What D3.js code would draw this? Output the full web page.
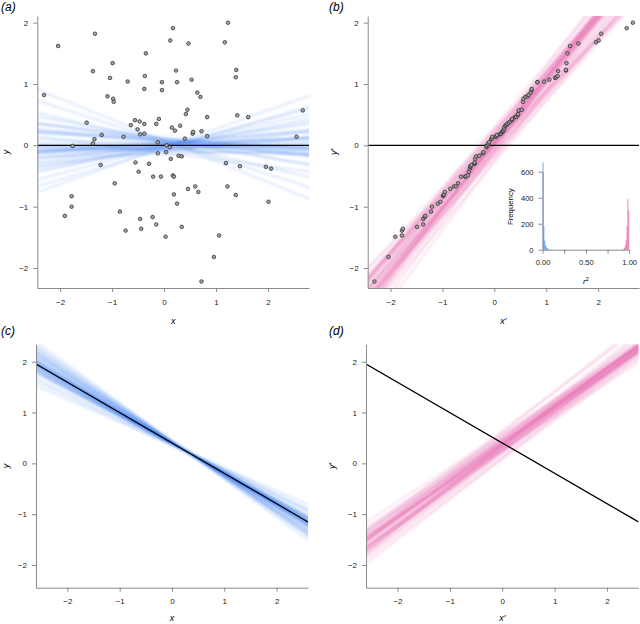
<!DOCTYPE html>
<html>
<head>
<meta charset="utf-8">
<script src="https://cdn.jsdelivr.net/npm/d3@7"></script>
<style>
  body { margin: 0; background: #fff; }
  svg { display: block; font-family: "Liberation Sans", Arial, sans-serif; }
</style>
</head>
<body>
<svg id="chart" width="640" height="624"></svg>
<script>
// ---- observed points (panel a); panel b uses the same values, each sorted ----
const ptX = [-2.31,-2.04,-1.33,-1.37,-0.99,-1.04,-1.09,-0.98,-0.97,-0.70,-0.35,-0.37,-0.38,-0.04,-0.04,0.12,0.17,0.23,0.25,0.47,
  0.53,0.64,0.70,0.45,0.42,0.83,1.17,1.23,1.39,1.38,1.41,1.62,2.67,2.55,-1.49,-1.34,-1.37,-1.20,-1.76,-0.78,
  -0.64,-0.56,-0.47,-0.51,-0.46,-0.38,-0.38,-0.15,-0.10,-0.12,0.05,0.11,0.15,0.21,0.31,0.40,0.55,0.56,0.72,0.83,
  -0.12,0.04,0.13,0.28,0.34,-1.22,-0.55,-0.29,-0.49,-0.21,-0.06,0.17,0.19,-0.95,0.46,0.60,0.66,0.19,0.25,1.19,
  1.46,1.96,2.06,1.22,1.38,2.01,-1.78,-1.78,-1.91,-0.85,-0.46,-0.22,-0.15,-0.74,-0.44,0.34,0.03,1.06,0.96,0.72];
const ptY = [0.82,1.62,1.82,1.21,1.34,1.10,0.80,0.76,0.71,1.04,1.50,1.13,0.92,1.03,0.90,1.71,1.91,1.22,1.03,1.66,
  1.07,0.86,0.79,0.58,0.51,0.46,1.68,2.00,1.23,1.11,0.49,0.46,0.57,0.14,0.37,0.10,0.03,0.17,-0.01,0.14,
  0.33,0.41,0.39,0.26,0.18,0.19,0.35,0.35,0.43,0.05,0.00,-0.03,0.29,0.24,0.32,0.11,0.19,0.22,0.23,0.15,
  -0.13,-0.11,-0.22,-0.17,-0.18,-0.32,-0.28,-0.30,-0.43,-0.51,-0.51,-0.49,-0.51,-0.62,-0.71,-0.67,-0.76,-0.80,-0.95,-0.29,
  -0.34,-0.35,-0.38,-0.67,-0.81,-0.92,-0.83,-1.00,-1.15,-1.08,-1.20,-1.17,-1.29,-1.39,-1.36,-1.33,-1.49,-1.47,-1.82,-2.22];

// ---- resampled fit lines (intercept, slope) per panel ----
const aInt = [-0.03,0.06,0.01,-0.09,0.04,0.10,-0.05,0.00,0.08,-0.02,-0.12,0.03,0.05,-0.07,0.02,0.07,-0.01,0.11,-0.04,0.00,
  0.13,-0.06,0.04,-0.10,0.02,-0.08,0.06,0.01,-0.03,0.09,-0.14,0.05,-0.02,0.03,-0.05,0.08,0.00,-0.06,0.10,-0.01];
const aSlope = [0.03,-0.08,0.12,-0.02,0.06,-0.15,0.01,0.09,-0.05,0.22,-0.11,0.02,0.07,-0.03,0.04,-0.27,0.14,-0.06,-0.01,0.18,
  -0.09,0.03,-0.20,0.08,-0.01,0.11,-0.13,0.04,0.30,-0.05,0.02,-0.07,0.16,-0.03,0.06,-0.34,0.00,0.25,-0.10,0.05];
const bInt = [0.02,0.14,-0.05,0.20,0.06,-0.10,0.11,0.03,-0.17,0.08,0.26,-0.02,0.04,-0.12,0.16,0.00,-0.07,0.22,0.09,-0.24,
  0.05,0.12,0.01,-0.14,0.18,0.03,-0.04,0.30,-0.09,0.07,0.10,-0.20,0.04,0.24,-0.01,0.06,-0.28,0.17,-0.11,0.03];
const bSlope = [1.01,0.95,1.06,0.99,1.03,0.92,1.00,1.08,0.97,1.12,0.94,1.02,1.05,0.98,0.96,0.86,1.09,0.97,1.01,1.14,
  0.93,1.00,0.89,1.04,0.99,1.07,0.95,1.02,1.16,0.96,1.00,0.93,1.10,0.98,1.03,0.84,1.01,1.11,0.94,1.02];
const cInt = [0.41,0.37,0.43,0.40,0.40,0.40,0.39,0.43,0.40,0.44,0.38,0.38,0.42,0.39,0.43,0.36,0.42,0.39,0.41,0.43,
  0.38,0.40,0.37,0.41,0.41,0.42,0.39,0.41,0.44,0.40,0.39,0.39,0.42,0.40,0.40,0.36,0.40,0.44,0.38,0.41];
const cSlope = [-0.60,-0.56,-0.65,-0.59,-0.62,-0.52,-0.61,-0.67,-0.58,-0.72,-0.55,-0.60,-0.64,-0.57,-0.63,-0.48,-0.69,-0.58,-0.61,-0.70,
  -0.54,-0.60,-0.50,-0.66,-0.59,-0.68,-0.56,-0.62,-0.75,-0.57,-0.60,-0.55,-0.67,-0.59,-0.63,-0.45,-0.61,-0.71,-0.56,-0.62];
const dInt = [0.38,0.24,0.49,0.33,0.42,0.20,0.36,0.47,0.29,0.58,0.25,0.39,0.45,0.31,0.40,0.10,0.52,0.28,0.35,0.55,
  0.22,0.37,0.14,0.44,0.34,0.50,0.27,0.41,0.64,0.30,0.36,0.23,0.48,0.32,0.43,0.08,0.37,0.60,0.26,0.39];
const dSlope = [0.73,0.76,0.71,0.75,0.74,0.78,0.72,0.70,0.75,0.67,0.77,0.74,0.72,0.79,0.73,0.80,0.69,0.74,0.76,0.71,
  0.73,0.82,0.75,0.72,0.78,0.74,0.66,0.73,0.77,0.75,0.70,0.74,0.79,0.72,0.68,0.76,0.73,0.81,0.74,0.71];

// black reference fits: [intercept, slope]
const fitAB = [0, 0];
const fitCD = [0.40, -0.597];

// ---- inset histogram of r^2 ----
const histBinWidth = 0.01;
const blueBinStart = [0.00,0.01,0.02,0.03,0.04,0.05,0.06,0.07,0.08,0.09];
const blueCounts = [672,178,70,36,18,10,7,5,3,1];
const pinkBinStart = [0.92,0.93,0.94,0.95,0.96,0.97,0.98,0.99];
const pinkCounts = [2,6,14,35,75,180,388,300];

const axisTicks = [-2, -1, 0, 1, 2];
const histYTicks = [0, 200, 400, 600];
const histXTicks = [0, 0.25, 0.5, 0.75, 1];
const histXLabels = [0, 0.5, 1];

const BLUE = '#3a7cf0';
const PINK = '#e2529f';

const svg = d3.select('#chart');
const fmt = d3.format('d');

// soft blur so the few resampled lines read as a dense fan
svg.append('defs').append('filter').attr('id', 'soft')
  .attr('x', '-5%').attr('y', '-5%').attr('width', '110%').attr('height', '110%')
  .append('feGaussianBlur').attr('stdDeviation', 0.9);

function drawPanel(p) {
  const g = svg.append('g');
  const x = d3.scaleLinear().domain(p.xDomain).range(p.xRange);
  const y = d3.scaleLinear().domain(p.yDomain).range(p.yRange);

  const clipId = 'clip-' + p.key;
  g.append('clipPath').attr('id', clipId)
    .append('rect')
    .attr('x', p.xRange[0]).attr('y', p.yRange[1])
    .attr('width', p.xRange[1] - p.xRange[0]).attr('height', p.yRange[0] - p.yRange[1]);

  const plot = g.append('g').attr('clip-path', `url(#${clipId})`);
  const [x0, x1] = p.xDomain;
  const line = d3.line().x(d => x(d[0])).y(d => y(d[1]));

  // fan of resampled lines
  plot.append('g')
    .attr('filter', 'url(#soft)')
    .selectAll('path')
    .data(d3.range(p.ints.length))
    .join('path')
    .attr('d', i => line([[x0 - 0.3, p.ints[i] + p.slopes[i] * (x0 - 0.3)], [x1 + 0.3, p.ints[i] + p.slopes[i] * (x1 + 0.3)]]))
    .attr('fill', 'none')
    .attr('stroke', p.color)
    .attr('stroke-width', 1.6)
    .attr('stroke-opacity', 0.2);

  // black fit line
  plot.append('path')
    .attr('d', line([[x0, p.fit[0] + p.fit[1] * x0], [x1, p.fit[0] + p.fit[1] * x1]]))
    .attr('fill', 'none')
    .attr('stroke', '#000')
    .attr('stroke-width', 1.3);

  if (p.px) {
    plot.append('g')
      .selectAll('circle')
      .data(d3.range(p.px.length))
      .join('circle')
      .attr('cx', i => x(p.px[i]))
      .attr('cy', i => y(p.py[i]))
      .attr('r', 1.8)
      .attr('fill', '#a6a6a6')
      .attr('stroke', '#2a2a2a')
      .attr('stroke-width', 0.75);
  }

  // axes (L-shaped)
  const ax = g.append('g').attr('transform', `translate(0,${p.yRange[0]})`)
    .call(d3.axisBottom(x).tickValues(axisTicks).tickFormat(fmt).tickSize(4).tickSizeOuter(0).tickPadding(7));
  const ay = g.append('g').attr('transform', `translate(${p.xRange[0]},0)`)
    .call(d3.axisLeft(y).tickValues(axisTicks).tickFormat(fmt).tickSize(4).tickSizeOuter(0).tickPadding(5));
  [ax, ay].forEach(a => {
    a.selectAll('path, line').attr('stroke', '#8a8a8a');
    a.selectAll('text').attr('font-size', 8).attr('fill', '#222');
  });

  // axis titles
  g.append('text')
    .attr('x', (p.xRange[0] + p.xRange[1]) / 2).attr('y', p.yRange[0] + p.titleGap)
    .attr('text-anchor', 'middle').attr('font-size', 9).attr('font-style', 'italic')
    .text(p.xTitle);
  const ym = (p.yRange[0] + p.yRange[1]) / 2;
  g.append('text')
    .attr('transform', `translate(${Math.max(p.xRange[0] - 31, 8.6)},${ym}) rotate(-90)`)
    .attr('text-anchor', 'middle').attr('font-size', 9).attr('font-style', 'italic')
    .text(p.yTitle);

  // panel letter
  g.append('text')
    .attr('x', p.tag[0]).attr('y', p.tag[1])
    .attr('font-size', 12).attr('font-style', 'italic')
    .text(p.label);
}

const topY = { yDomain: [-2.326, 2.109], yRange: [288, 16], titleGap: 35.5 };
const botY = { yDomain: [-2.446, 2.342], yRange: [587.7, 344.3], titleGap: 33 };

drawPanel({ key: 'a', label: '(a)', tag: [1, 11], xTitle: 'x', yTitle: 'y',
  xDomain: [-2.44, 2.79], xRange: [37.3, 309], ...topY,
  ints: aInt, slopes: aSlope, color: BLUE, fit: fitAB, px: ptX, py: ptY });

drawPanel({ key: 'b', label: '(b)', tag: [329, 11], xTitle: 'x\u2032', yTitle: 'y\u2032',
  xDomain: [-2.44, 2.79], xRange: [367.7, 639.1], ...topY,
  ints: bInt, slopes: bSlope, color: PINK, fit: fitAB, px: d3.sort(ptX), py: d3.sort(ptY) });

drawPanel({ key: 'c', label: '(c)', tag: [1, 335], xTitle: 'x', yTitle: 'y',
  xDomain: [-2.6, 2.6], xRange: [36, 308], ...botY,
  ints: cInt, slopes: cSlope, color: BLUE, fit: fitCD });

drawPanel({ key: 'd', label: '(d)', tag: [329, 335], xTitle: 'x\u2032', yTitle: 'y\u2032',
  xDomain: [-2.6, 2.6], xRange: [366, 638.5], ...botY,
  ints: dInt, slopes: dSlope, color: PINK, fit: fitCD });

// ---- inset histogram in panel (b) ----
function drawInset() {
  const g = svg.append('g');
  const x = d3.scaleLinear().domain([0, 1]).range([542.6, 629.2]);
  const y = d3.scaleLinear().domain([0, 600]).range([249.7, 171.7]);

  g.append('g').selectAll('rect')
    .data(d3.range(blueCounts.length))
    .join('rect')
    .attr('x', i => x(blueBinStart[i]))
    .attr('width', i => x(blueBinStart[i] + histBinWidth) - x(blueBinStart[i]))
    .attr('y', i => y(blueCounts[i]))
    .attr('height', i => y(0) - y(blueCounts[i]))
    .attr('fill', '#4a86ee').attr('fill-opacity', 0.85);

  g.append('g').selectAll('rect')
    .data(d3.range(pinkCounts.length))
    .join('rect')
    .attr('x', i => x(pinkBinStart[i]))
    .attr('width', i => x(pinkBinStart[i] + histBinWidth) - x(pinkBinStart[i]))
    .attr('y', i => y(pinkCounts[i]))
    .attr('height', i => y(0) - y(pinkCounts[i]))
    .attr('fill', '#e05aa4').attr('fill-opacity', 0.85);

  const ax = g.append('g').attr('transform', `translate(0,${y(0)})`)
    .call(d3.axisBottom(x).tickValues(histXTicks).tickSize(4).tickSizeOuter(0).tickPadding(6)
      .tickFormat(d => histXLabels.includes(d) ? d3.format('.2f')(d) : ''));
  const ay = g.append('g').attr('transform', `translate(${x(0)},0)`)
    .call(d3.axisLeft(y).tickValues(histYTicks).tickSize(4).tickSizeOuter(0).tickPadding(5).tickFormat(fmt));
  [ax, ay].forEach(a => {
    a.selectAll('path, line').attr('stroke', '#8a8a8a');
    a.selectAll('text').attr('font-size', 7.6).attr('fill', '#222');
  });

  g.append('text')
    .attr('transform', `translate(${x(0) - 30},${(y(0) + y(600)) / 2 - 4}) rotate(-90)`)
    .attr('text-anchor', 'middle').attr('font-size', 7.8)
    .text('Frequency');
  const t = g.append('text')
    .attr('x', x(0.5)).attr('y', 284)
    .attr('text-anchor', 'middle').attr('font-size', 8).attr('font-style', 'italic');
  t.append('tspan').text('r');
  t.append('tspan').attr('dy', -3).attr('font-size', 6).attr('font-style', 'normal').text('2');
}
drawInset();
</script>
</body>
</html>
